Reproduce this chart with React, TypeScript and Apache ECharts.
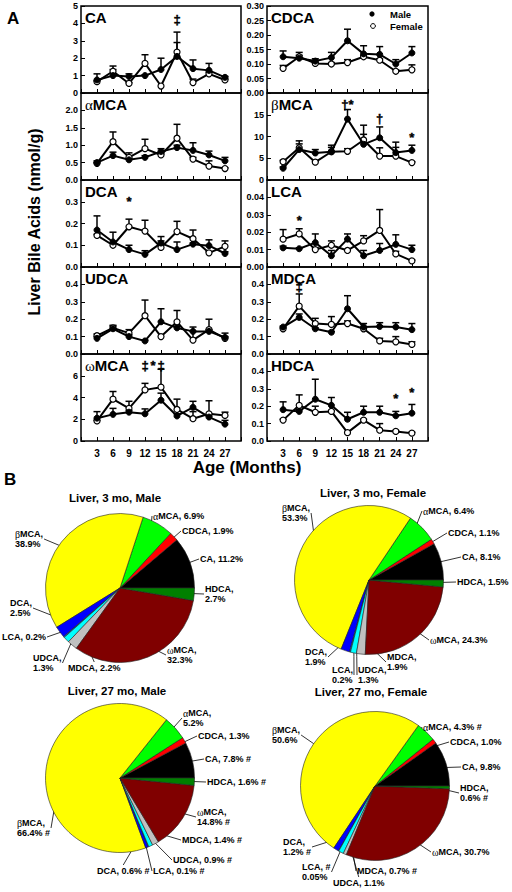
import React, { useEffect, useRef } from 'react';
import * as echarts from 'echarts';

const FONT = "'Liberation Sans', Arial, Helvetica, sans-serif";
const SERIF = "'Liberation Serif', 'Times New Roman', serif";

// ---------- Panel A data ----------
const MONTHS = [3, 6, 9, 12, 15, 18, 21, 24, 27];

const CA_MALE = [0.75, 1.0, 0.95, 1.0, 1.35, 2.1, 1.4, 1.3, 0.9];
const CA_MALE_UP = [1.1, 1.35, 1.1, 1.05, 2.0, 2.9, 1.9, 1.7, 0.95];
const CA_FEMALE = [0.65, 1.25, 0.55, 1.7, 0.4, 2.35, 0.6, 1.1, 0.75];
const CA_FEMALE_UP = [0.7, 1.55, 0.6, 2.2, 0.4, 3.5, 0.8, 1.2, 0.8];
const CA_SIG: [number, number, string][] = [[18, 4.2, '‡']];

const AMCA_MALE = [0.5, 0.7, 0.58, 0.65, 0.82, 0.93, 0.85, 0.72, 0.55];
const AMCA_MALE_UP = [0.55, 0.8, 0.62, 0.7, 0.9, 1.0, 1.07, 0.83, 0.65];
const AMCA_FEMALE = [0.48, 1.1, 0.65, 0.9, 0.72, 1.2, 0.6, 0.4, 0.33];
const AMCA_FEMALE_UP = [0.5, 1.38, 0.78, 1.17, 0.75, 1.6, 0.65, 0.55, 0.35];
const AMCA_SIG: [number, number, string][] = [];

const DCA_MALE = [0.17, 0.115, 0.08, 0.058, 0.11, 0.08, 0.105, 0.098, 0.062];
const DCA_MALE_UP = [0.235, 0.16, 0.1, 0.075, 0.14, 0.115, 0.11, 0.125, 0.07];
const DCA_FEMALE = [0.145, 0.1, 0.185, 0.165, 0.09, 0.163, 0.13, 0.065, 0.095];
const DCA_FEMALE_UP = [0.15, 0.1, 0.22, 0.215, 0.12, 0.21, 0.17, 0.07, 0.12];
const DCA_SIG: [number, number, string][] = [[9, 0.3, '*']];

const UDCA_MALE = [0.09, 0.145, 0.1, 0.075, 0.185, 0.15, 0.13, 0.13, 0.095];
const UDCA_MALE_UP = [0.1, 0.165, 0.11, 0.08, 0.26, 0.16, 0.155, 0.14, 0.12];
const UDCA_FEMALE = [0.105, 0.15, 0.12, 0.22, 0.1, 0.185, 0.08, 0.14, 0.09];
const UDCA_FEMALE_UP = [0.115, 0.16, 0.14, 0.31, 0.1, 0.25, 0.13, 0.2, 0.1];
const UDCA_SIG: [number, number, string][] = [];

const WMCA_MALE = [2.1, 2.45, 2.65, 2.5, 3.75, 2.3, 3.1, 2.2, 1.55];
const WMCA_MALE_UP = [2.7, 3.0, 2.8, 2.95, 4.4, 2.5, 3.65, 2.3, 1.9];
const WMCA_FEMALE = [1.85, 3.85, 3.0, 4.7, 4.95, 2.9, 2.05, 2.5, 2.35];
const WMCA_FEMALE_UP = [1.9, 4.55, 3.65, 5.3, 6.6, 3.85, 2.7, 3.7, 2.65];
const WMCA_SIG: [number, number, string][] = [[12, 6.9, '‡'], [13.5, 6.9, '*'], [15, 6.9, '‡']];

const CDCA_MALE = [0.125, 0.12, 0.11, 0.122, 0.18, 0.135, 0.133, 0.1, 0.138];
const CDCA_MALE_UP = [0.145, 0.14, 0.118, 0.14, 0.22, 0.163, 0.16, 0.115, 0.16];
const CDCA_FEMALE = [0.085, 0.125, 0.102, 0.1, 0.105, 0.125, 0.113, 0.075, 0.08];
const CDCA_FEMALE_UP = [0.095, 0.13, 0.105, 0.105, 0.115, 0.13, 0.118, 0.08, 0.097];
const CDCA_SIG: [number, number, string][] = [];

const BMCA_MALE = [2.7, 7.0, 6.2, 6.5, 14.0, 8.2, 9.7, 6.3, 6.8];
const BMCA_MALE_UP = [3.0, 8.3, 7.0, 7.5, 16.2, 10.5, 12.2, 7.5, 8.0];
const BMCA_FEMALE = [4.2, 7.4, 4.1, 6.5, 6.6, 9.2, 5.5, 5.5, 4.0];
const BMCA_FEMALE_UP = [4.5, 9.0, 4.3, 8.0, 7.2, 12.6, 7.4, 8.7, 4.2];
const BMCA_SIG: [number, number, string][] = [[15, 17.4, '†*'], [21, 14.2, '†'], [27, 9.8, '*']];

const LCA_MALE = [0.011, 0.0105, 0.014, 0.0065, 0.016, 0.0065, 0.0095, 0.013, 0.01];
const LCA_MALE_UP = [0.012, 0.011, 0.019, 0.0095, 0.019, 0.0095, 0.0135, 0.0185, 0.0125];
const LCA_FEMALE = [0.016, 0.019, 0.01, 0.0125, 0.0095, 0.015, 0.021, 0.0075, 0.0035];
const LCA_FEMALE_UP = [0.0215, 0.022, 0.011, 0.015, 0.01, 0.018, 0.033, 0.009, 0.004];
const LCA_SIG: [number, number, string][] = [[6, 0.027, '*']];

const MDCA_MALE = [0.155, 0.21, 0.145, 0.125, 0.26, 0.155, 0.158, 0.155, 0.14];
const MDCA_MALE_UP = [0.16, 0.23, 0.15, 0.13, 0.335, 0.175, 0.18, 0.18, 0.175];
const MDCA_FEMALE = [0.145, 0.275, 0.175, 0.17, 0.175, 0.145, 0.075, 0.07, 0.055];
const MDCA_FEMALE_UP = [0.15, 0.345, 0.205, 0.215, 0.19, 0.15, 0.09, 0.1, 0.07];
const MDCA_SIG: [number, number, string][] = [[6, 0.39, '‡']];

const HDCA_MALE = [0.18, 0.17, 0.24, 0.205, 0.125, 0.165, 0.165, 0.145, 0.16];
const HDCA_MALE_UP = [0.225, 0.18, 0.355, 0.25, 0.165, 0.2, 0.2, 0.17, 0.21];
const HDCA_FEMALE = [0.12, 0.205, 0.165, 0.17, 0.048, 0.12, 0.062, 0.055, 0.045];
const HDCA_FEMALE_UP = [0.125, 0.265, 0.2, 0.175, 0.05, 0.125, 0.1, 0.06, 0.05];
const HDCA_SIG: [number, number, string][] = [[24, 0.245, '*'], [27, 0.28, '*']];

const PANELS = [
  { name: 'CA', male: CA_MALE, maleUp: CA_MALE_UP, female: CA_FEMALE, femaleUp: CA_FEMALE_UP, sig: CA_SIG },
  { name: 'αMCA', male: AMCA_MALE, maleUp: AMCA_MALE_UP, female: AMCA_FEMALE, femaleUp: AMCA_FEMALE_UP, sig: AMCA_SIG },
  { name: 'DCA', male: DCA_MALE, maleUp: DCA_MALE_UP, female: DCA_FEMALE, femaleUp: DCA_FEMALE_UP, sig: DCA_SIG },
  { name: 'UDCA', male: UDCA_MALE, maleUp: UDCA_MALE_UP, female: UDCA_FEMALE, femaleUp: UDCA_FEMALE_UP, sig: UDCA_SIG },
  { name: 'ωMCA', male: WMCA_MALE, maleUp: WMCA_MALE_UP, female: WMCA_FEMALE, femaleUp: WMCA_FEMALE_UP, sig: WMCA_SIG },
  { name: 'CDCA', male: CDCA_MALE, maleUp: CDCA_MALE_UP, female: CDCA_FEMALE, femaleUp: CDCA_FEMALE_UP, sig: CDCA_SIG },
  { name: 'βMCA', male: BMCA_MALE, maleUp: BMCA_MALE_UP, female: BMCA_FEMALE, femaleUp: BMCA_FEMALE_UP, sig: BMCA_SIG },
  { name: 'LCA', male: LCA_MALE, maleUp: LCA_MALE_UP, female: LCA_FEMALE, femaleUp: LCA_FEMALE_UP, sig: LCA_SIG },
  { name: 'MDCA', male: MDCA_MALE, maleUp: MDCA_MALE_UP, female: MDCA_FEMALE, femaleUp: MDCA_FEMALE_UP, sig: MDCA_SIG },
  { name: 'HDCA', male: HDCA_MALE, maleUp: HDCA_MALE_UP, female: HDCA_FEMALE, femaleUp: HDCA_FEMALE_UP, sig: HDCA_SIG },
];

// axis setup per panel (same order as PANELS)
const AXES = [
  { col: 0, row: 0, max: 5, interval: 1, dec: 0, labelMax: 5 },
  { col: 0, row: 1, max: 2.5, interval: 0.5, dec: 1, labelMax: 2 },
  { col: 0, row: 2, max: 0.4, interval: 0.1, dec: 1, labelMax: 0.3 },
  { col: 0, row: 3, max: 0.5, interval: 0.1, dec: 1, labelMax: 0.4 },
  { col: 0, row: 4, max: 8, interval: 2, dec: 0, labelMax: 6 },
  { col: 1, row: 0, max: 0.3, interval: 0.05, dec: 2, labelMax: 0.3 },
  { col: 1, row: 1, max: 20, interval: 5, dec: 0, labelMax: 15 },
  { col: 1, row: 2, max: 0.05, interval: 0.01, dec: 2, labelMax: 0.04 },
  { col: 1, row: 3, max: 0.5, interval: 0.1, dec: 1, labelMax: 0.4 },
  { col: 1, row: 4, max: 0.5, interval: 0.1, dec: 1, labelMax: 0.4 },
];

// ---------- Panel B data ----------
const BA_NAMES = ['CA', 'CDCA', 'αMCA', 'βMCA', 'DCA', 'LCA', 'UDCA', 'MDCA', 'ωMCA', 'HDCA'];
const PIE_3M_MALE = [11.2, 1.9, 6.9, 38.9, 2.5, 0.2, 1.3, 2.2, 32.3, 2.7];
const PIE_3M_FEMALE = [8.1, 1.1, 6.4, 53.3, 1.9, 0.2, 1.3, 1.9, 24.3, 1.5];
const PIE_27M_MALE = [7.8, 1.3, 5.2, 66.4, 0.6, 0.1, 0.9, 1.4, 14.8, 1.6];
const PIE_27M_FEMALE = [9.8, 1.0, 4.3, 50.6, 1.2, 0.05, 1.1, 0.7, 30.7, 0.6];
const SIG_NONE = [0, 0, 0, 0, 0, 0, 0, 0, 0, 0];
const SIG_27M_MALE = [1, 0, 0, 1, 1, 1, 1, 1, 1, 1];
const SIG_27M_FEMALE = [0, 0, 1, 0, 1, 1, 0, 1, 0, 1];
const PIE_TITLES = ['Liver, 3 mo, Male', 'Liver, 3 mo, Female', 'Liver, 27 mo, Male', 'Liver, 27 mo, Female'];

const PIE_VALUES = [PIE_3M_MALE, PIE_3M_FEMALE, PIE_27M_MALE, PIE_27M_FEMALE];
const PIE_SIGS = [SIG_NONE, SIG_NONE, SIG_27M_MALE, SIG_27M_FEMALE];
const PIE_COLORS = ['#000000', '#ff0000', '#00ff00', '#ffff00', '#0000ff', '#0080ff', '#00ffff', '#c0c0c0', '#800000', '#008000'];

// label templates: 0 one line, 1 two lines, 2 sign on first line
const TPL = ['{n}, {v}{s}', '{n},\n{v}{s}', '{n},{s}\n{v}'];

// layout (styling) of the pies: centres, title positions, label boxes [left, top, template]
const PIE_LAYOUT = [
  {
    center: [120, 588], title: [115, 498],
    labels: [[200, 554, 0], [182, 526, 0], [153, 511, 0], [15, 529, 1], [10, 598, 1], [2, 632, 0], [33, 653, 1], [68, 663, 0], [167, 645, 1], [205, 584, 1]],
  },
  {
    center: [369, 580], title: [373, 493],
    labels: [[462, 552, 0], [448, 528, 0], [423, 506, 0], [282, 503, 1], [305, 647, 1], [332, 665, 1], [358, 665, 1], [387, 652, 1], [430, 635, 0], [457, 577, 0]],
  },
  {
    center: [120, 778], title: [117, 691],
    labels: [[205, 754, 0], [198, 731, 0], [183, 708, 1], [17, 818, 1], [97, 866, 0], [153, 866, 0], [173, 855, 0], [182, 835, 0], [197, 807, 1], [207, 777, 0]],
  },
  {
    center: [375, 786], title: [371, 692],
    labels: [[462, 762, 0], [450, 737, 0], [423, 722, 0], [272, 725, 1], [283, 837, 1], [302, 862, 2], [333, 878, 0], [357, 866, 0], [432, 847, 0], [460, 783, 1]],
  },
];
const PIE_R = 74.5;

const COL_LEFT = [81, 267];
const COL_WIDTH = [160, 161];
const ROW_TOP = [6, 93, 180, 267, 354];
const ROW_H = [87, 87, 87, 87, 87];

const greek = (s: string) => s.replace(/([αβω])/g, '{g|$1}');

function buildOption() {
  const grid: any[] = [];
  const xAxis: any[] = [];
  const yAxis: any[] = [];
  const series: any[] = [];
  const graphic: any[] = [];

  const errRender = (params: any, api: any) => {
    const x = api.value(0);
    const y = api.value(1);
    const u = api.value(2);
    if (!(u > y)) return { type: 'group', children: [] };
    const p0 = api.coord([x, y]);
    const p1 = api.coord([x, u]);
    return {
      type: 'group',
      children: [
        { type: 'line', shape: { x1: p0[0], y1: p0[1], x2: p1[0], y2: p1[1] }, style: { stroke: '#000', lineWidth: 1.5 } },
        { type: 'line', shape: { x1: p1[0] - 3.5, y1: p1[1], x2: p1[0] + 3.5, y2: p1[1] }, style: { stroke: '#000', lineWidth: 1.5 } },
      ],
    };
  };

  PANELS.forEach((p, i) => {
    const a = AXES[i];
    const left = COL_LEFT[a.col];
    const top = ROW_TOP[a.row];
    grid.push({
      left, top, width: COL_WIDTH[a.col], height: ROW_H[a.row],
      show: true, borderColor: '#000', borderWidth: 1.5, backgroundColor: 'transparent',
      outerBoundsMode: 'none',
    });
    xAxis.push({
      gridIndex: i, type: 'value', min: 0, max: 30, interval: 3,
      axisLine: { show: false }, splitLine: { show: false },
      axisTick: { show: true, inside: true, length: 4, lineStyle: { color: '#000', width: 1 } },
      axisLabel: {
        show: a.row === 4, margin: 7, fontSize: 10, fontWeight: 'bold', fontFamily: FONT, color: '#000',
        formatter: (v: number) => (v <= 0 || v >= 30 ? '' : String(v)),
      },
    });
    yAxis.push({
      gridIndex: i, type: 'value', min: 0, max: a.max, interval: a.interval,
      axisLine: { show: false }, splitLine: { show: false },
      axisTick: { show: true, inside: true, length: 4, lineStyle: { color: '#000', width: 1 } },
      axisLabel: {
        margin: 3, fontSize: 9, fontWeight: 'bold', fontFamily: FONT, color: '#000',
        formatter: (v: number) => (v > a.labelMax + 1e-9 ? '' : v.toFixed(a.dec)),
      },
    });
    series.push({
      type: 'custom', xAxisIndex: i, yAxisIndex: i, z: 2, silent: true,
      data: MONTHS.map((m, k) => [m, p.female[k], p.femaleUp[k]]),
      renderItem: errRender,
    });
    series.push({
      type: 'custom', xAxisIndex: i, yAxisIndex: i, z: 2, silent: true,
      data: MONTHS.map((m, k) => [m, p.male[k], p.maleUp[k]]),
      renderItem: errRender,
    });
    series.push({
      type: 'line', xAxisIndex: i, yAxisIndex: i, z: 3, silent: true,
      data: MONTHS.map((m, k) => [m, p.female[k]]),
      symbol: 'circle', symbolSize: 6, showAllSymbol: true,
      itemStyle: { color: '#fff', borderColor: '#000', borderWidth: 1.2 },
      lineStyle: { color: '#000', width: 2 },
    });
    series.push({
      type: 'line', xAxisIndex: i, yAxisIndex: i, z: 4, silent: true,
      data: MONTHS.map((m, k) => [m, p.male[k]]),
      symbol: 'circle', symbolSize: 6, showAllSymbol: true,
      itemStyle: { color: '#000', borderColor: '#000', borderWidth: 1 },
      lineStyle: { color: '#000', width: 2 },
    });
    const sig = p.sig;
    if (sig.length) {
      series.push({
        type: 'scatter', xAxisIndex: i, yAxisIndex: i, z: 5, silent: true,
        data: sig.map((s) => [s[0], s[1]]),
        symbol: 'circle', symbolSize: 1,
        itemStyle: { color: '#000', opacity: 0 },
        label: {
          show: true, position: 'inside', color: '#000', fontSize: 13, fontWeight: 'bold', fontFamily: FONT,
          textBorderColor: '#000', textBorderWidth: 0.4, opacity: 1,
          formatter: (prm: any) => sig[prm.dataIndex][2],
        },
      });
    }
    // panel title
    graphic.push({
      type: 'text', left: left + 4, top: top + 4,
      style: {
        text: greek(p.name), fill: '#000', fontSize: 15, fontWeight: 'bold', fontFamily: FONT,
        rich: { g: { fontSize: 15, fontFamily: SERIF, fontWeight: 'normal', fill: '#000' } },
      },
    });
  });

  // legend in CDCA panel
  graphic.push({ type: 'circle', shape: { cx: 372, cy: 14, r: 2.6 }, style: { fill: '#000' } });
  graphic.push({ type: 'circle', shape: { cx: 373, cy: 26, r: 2.4 }, style: { fill: '#fff', stroke: '#000', lineWidth: 1 } });
  graphic.push({ type: 'text', x: 390, y: 14, style: { text: 'Male', textVerticalAlign: 'middle', fontSize: 9.5, fontWeight: 'bold', fontFamily: FONT, fill: '#000' } });
  graphic.push({ type: 'text', x: 390, y: 26, style: { text: 'Female', textVerticalAlign: 'middle', fontSize: 9.5, fontWeight: 'bold', fontFamily: FONT, fill: '#000' } });

  // figure letters and axis titles
  graphic.push({ type: 'text', x: 7, y: 18, style: { text: 'A', textVerticalAlign: 'middle', fontSize: 17, fontWeight: 'bold', fontFamily: FONT, fill: '#000' } });
  graphic.push({ type: 'text', x: 4, y: 479, style: { text: 'B', textVerticalAlign: 'middle', fontSize: 17, fontWeight: 'bold', fontFamily: FONT, fill: '#000' } });
  graphic.push({
    type: 'text', x: 34, y: 222, rotation: Math.PI / 2,
    style: { text: 'Liver Bile Acids (nmol/g)', textAlign: 'center', textVerticalAlign: 'middle', fontSize: 16, fontWeight: 'bold', fontFamily: FONT, fill: '#000' },
  });
  graphic.push({
    type: 'text', x: 247, y: 467,
    style: { text: 'Age (Months)', textAlign: 'center', textVerticalAlign: 'middle', fontSize: 17, fontWeight: 'bold', fontFamily: FONT, fill: '#000' },
  });

  // pies
  PIE_VALUES.forEach((vals, pi) => {
    const L = PIE_LAYOUT[pi];
    const sigs = PIE_SIGS[pi];
    const total = vals.reduce((s, v) => s + v, 0);
    graphic.push({
      type: 'text', x: L.title[0], y: L.title[1],
      style: { text: PIE_TITLES[pi], textAlign: 'center', textVerticalAlign: 'middle', fontSize: 11.5, fontWeight: 'bold', fontFamily: FONT, fill: '#000' },
    });
    series.push({
      type: 'pie', center: L.center, radius: PIE_R, startAngle: 0, clockwise: false,
      avoidLabelOverlap: false, silent: true, z: 2,
      data: BA_NAMES.map((n, k) => ({ name: n, value: vals[k], itemStyle: { color: PIE_COLORS[k] } })),
      itemStyle: { borderColor: '#222', borderWidth: 0.6 },
      label: {
        show: true, position: 'outside', color: '#000', fontSize: 9, fontWeight: 'bold', fontFamily: FONT, lineHeight: 10,
        formatter: (prm: any) => {
          const k = prm.dataIndex;
          const v = vals[k];
          const vs = (v < 0.1 ? v.toFixed(2) : v.toFixed(1)) + '%';
          return TPL[L.labels[k][2]]
            .replace('{n}', greek(BA_NAMES[k]))
            .replace('{v}', vs)
            .replace('{s}', sigs[k] ? ' #' : '');
        },
        rich: { g: { fontSize: 10, fontFamily: SERIF, fontWeight: 'normal', color: '#000', lineHeight: 10 } },
      },
      labelLine: { show: true, length: 4, length2: 4, lineStyle: { color: '#000', width: 0.8 } },
      labelLayout: (prm: any) => {
        const k = prm.dataIndex;
        const [lx, ly] = L.labels[k];
        const w = prm.labelRect.width;
        const h = prm.labelRect.height;
        let cum = 0;
        for (let j = 0; j < k; j++) cum += vals[j];
        const mid = ((cum + vals[k] / 2) / total) * Math.PI * 2;
        const ax = L.center[0] + 0.8 * PIE_R * Math.cos(mid);
        const ay = L.center[1] - 0.8 * PIE_R * Math.sin(mid);
        let sx: number;
        let sy: number;
        if (ax > lx + w) { sx = lx + w + 1; sy = ly + h / 2; }
        else if (ax < lx) { sx = lx - 1; sy = ly + h / 2; }
        else if (ay < ly) { sx = lx + w / 2; sy = ly - 1; }
        else { sx = lx + w / 2; sy = ly + h + 1; }
        return {
          x: lx, y: ly, align: 'left', verticalAlign: 'top',
          labelLinePoints: [[sx, sy], [(sx + ax) / 2, (sy + ay) / 2], [ax, ay]],
        };
      },
    });
  });

  return {
    animation: false,
    backgroundColor: '#fff',
    grid, xAxis, yAxis, series, graphic,
  };
}

export default function App() {
  const ref = useRef<HTMLDivElement>(null);
  useEffect(() => {
    if (!ref.current) return;
    const chart = echarts.init(ref.current, undefined, { renderer: 'svg' });
    chart.setOption(buildOption() as any);
    return () => chart.dispose();
  }, []);
  return <div ref={ref} style={{ position: 'fixed', left: 0, top: 0, width: 512, height: 892 }} />;
}
